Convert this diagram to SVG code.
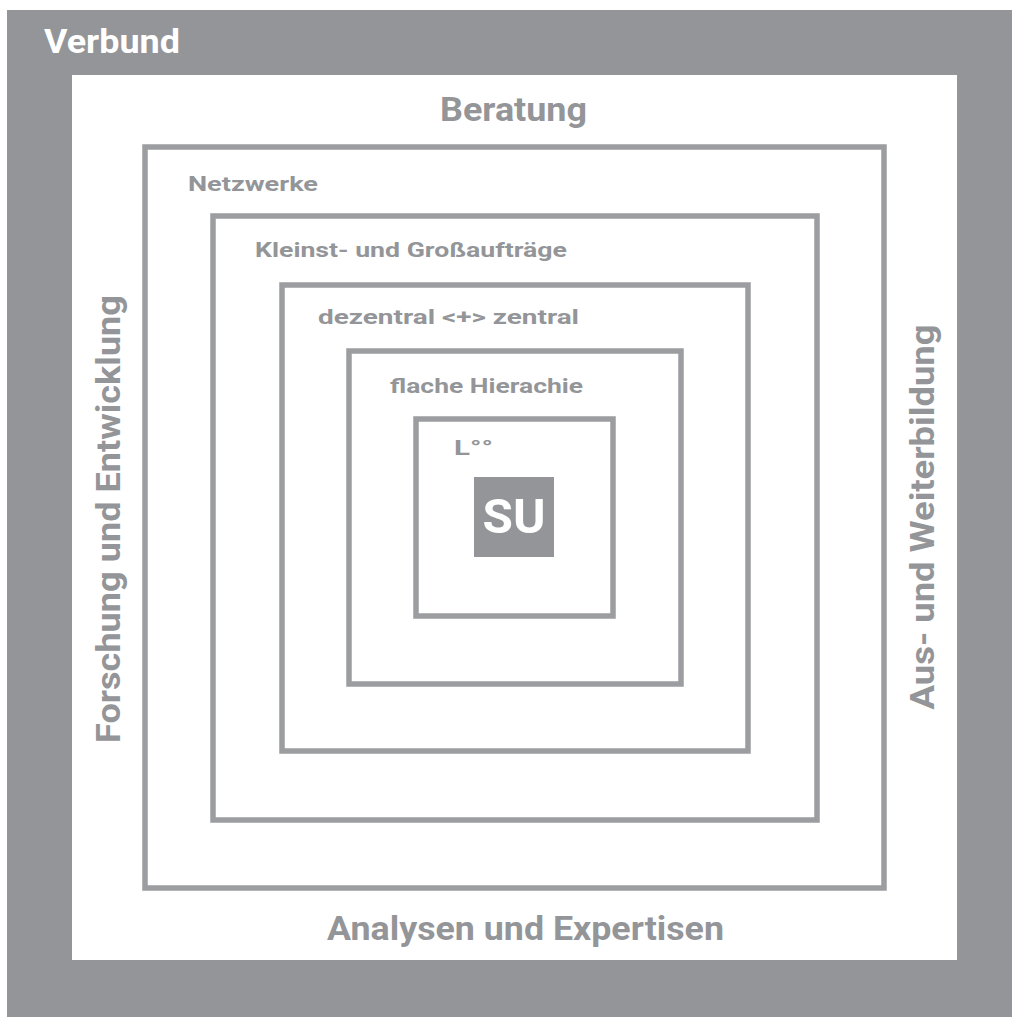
<svg xmlns="http://www.w3.org/2000/svg" width="1012" height="1017" viewBox="0 0 1012 1017">
<style>
.box{fill:none;stroke:#9c9da0;stroke-width:5.5}
.big{font-family:Roboto,"Liberation Sans",sans-serif;font-weight:700;font-size:33px;fill:#939598}
.small{font-family:Roboto,"Liberation Sans",sans-serif;font-weight:700;font-size:20px;fill:#939598}
.white{fill:#ffffff}
</style>
<rect width="1012" height="1017" fill="#ffffff"/>
<g id="verbund">
<path d="M7 10H1012V1017H7Z M72 75V960H957V75Z" fill="#939598" fill-rule="evenodd"/>
<text class="big white" x="44" y="53" textLength="136" lengthAdjust="spacingAndGlyphs">Verbund</text>
</g>
<g id="beratung">
<text class="big" x="440" y="121" textLength="147" lengthAdjust="spacingAndGlyphs">Beratung</text>
<text class="big" x="327" y="940" textLength="397" lengthAdjust="spacingAndGlyphs">Analysen und Expertisen</text>
<text class="big" transform="translate(120,519) rotate(-90)" text-anchor="middle" textLength="448" lengthAdjust="spacingAndGlyphs">Forschung und Entwicklung</text>
<text class="big" transform="translate(934,517) rotate(-90)" text-anchor="middle" textLength="385" lengthAdjust="spacingAndGlyphs">Aus- und Weiterbildung</text>
</g>
<g id="netzwerke">
<rect class="box" x="145" y="147" width="739" height="741"/>
<text class="small" x="188" y="191" textLength="130" lengthAdjust="spacingAndGlyphs">Netzwerke</text>
</g>
<g id="auftraege">
<rect class="box" x="213" y="216" width="604" height="604"/>
<text class="small" x="255" y="257" textLength="312" lengthAdjust="spacingAndGlyphs">Kleinst- und Großaufträge</text>
</g>
<g id="zentral">
<rect class="box" x="282" y="285" width="466" height="466"/>
<text class="small" x="318" y="324" textLength="261" lengthAdjust="spacingAndGlyphs">dezentral &lt;+&gt; zentral</text>
</g>
<g id="hierarchie">
<rect class="box" x="349" y="351" width="332" height="333"/>
<text class="small" x="390" y="393" textLength="193" lengthAdjust="spacingAndGlyphs">flache Hierachie</text>
</g>
<g id="l">
<rect class="box" x="416" y="419" width="197" height="197"/>
<text class="small" x="454" y="455" textLength="39" lengthAdjust="spacingAndGlyphs">L°°</text>
</g>
<g id="su">
<rect x="474" y="477" width="80" height="80" fill="#939598"/>
<text class="white" x="514" y="533" text-anchor="middle" font-family="Roboto,'Liberation Sans',sans-serif" font-weight="700" font-size="48" textLength="63" lengthAdjust="spacingAndGlyphs">SU</text>
</g>
</svg>
